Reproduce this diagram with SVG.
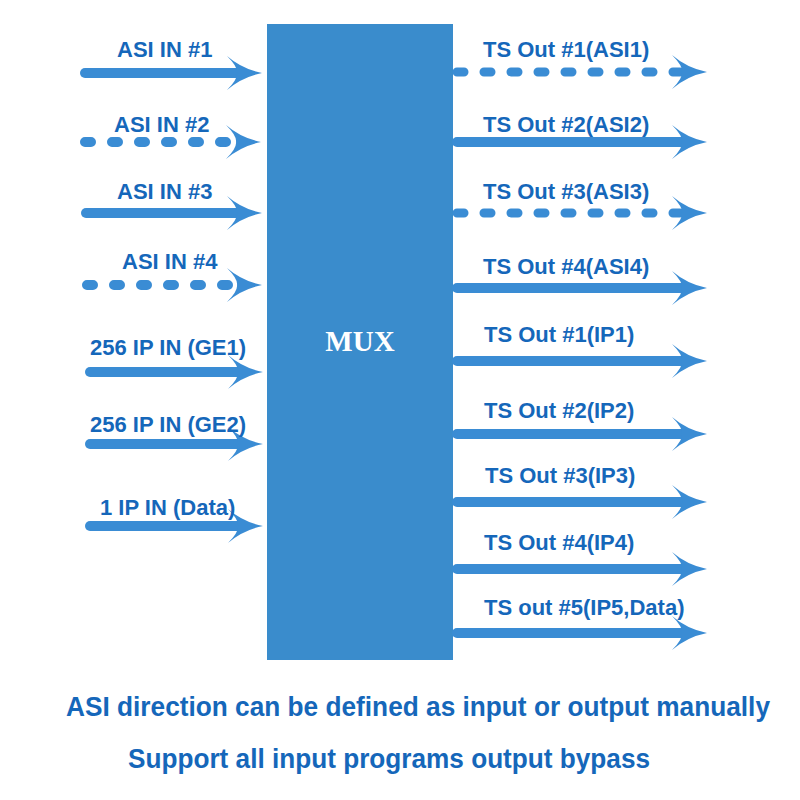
<svg xmlns="http://www.w3.org/2000/svg" width="800" height="800" viewBox="0 0 800 800">
<style>
.ln{fill:none;stroke:#3a8cd4;stroke-width:10;stroke-linecap:round;marker-end:url(#ah)}
.dl{stroke-dasharray:6 21}
.dr{stroke-dasharray:7 20;stroke-width:9}
.lb{font-family:"Liberation Sans",Arial,sans-serif;font-weight:bold;font-size:22px;fill:#1567ba}
.ft{font-family:"Liberation Sans",Arial,sans-serif;font-weight:bold;font-size:27px;fill:#1567ba;text-anchor:middle}
</style>
<defs>
<marker id="ah" markerUnits="userSpaceOnUse" viewBox="0 -18 37 36" markerWidth="37" markerHeight="36" refX="11" refY="0" orient="auto">
<path d="M36,0 Q16,-4 1,-17 Q12,-6 11,0 Q12,6 1,17 Q16,4 36,0 Z" fill="#3a8cd4"/>
</marker>
</defs>
<rect width="800" height="800" fill="#ffffff"/>
<g id="mux">
<rect x="267" y="24" width="186" height="636" fill="#3a8ccc"/>
<text x="360" y="351" text-anchor="middle" font-family="'Liberation Serif','Times New Roman',serif" font-weight="bold" font-size="29" fill="#ffffff">MUX</text>
</g>
<g id="connectors">
<path class="ln" d="M85,73 H237"/>
<path class="ln dl" d="M85,142 H236"/>
<path class="ln" d="M86,213 H237"/>
<path class="ln dl" d="M87,285 H237"/>
<path class="ln" d="M90,372 H238"/>
<path class="ln" d="M90,444 H238"/>
<path class="ln" d="M90,526 H238"/>
<path class="ln dr" d="M457,72 H682"/>
<path class="ln" d="M457,142 H682"/>
<path class="ln dr" d="M457,213 H682"/>
<path class="ln" d="M457,288 H682"/>
<path class="ln" d="M457,361 H682"/>
<path class="ln" d="M457,434 H682"/>
<path class="ln" d="M457,502 H682"/>
<path class="ln" d="M457,569 H682"/>
<path class="ln" d="M457,633 H682"/>
</g>
<g id="labels">
<text class="lb" x="117" y="57">ASI IN #1</text>
<text class="lb" x="114" y="132">ASI IN #2</text>
<text class="lb" x="117" y="199">ASI IN #3</text>
<text class="lb" x="122" y="269">ASI IN #4</text>
<text class="lb" x="90" y="355">256 IP IN (GE1)</text>
<text class="lb" x="90" y="432">256 IP IN (GE2)</text>
<text class="lb" x="100" y="515">1 IP IN (Data)</text>
<text class="lb" x="483" y="57">TS Out #1(ASI1)</text>
<text class="lb" x="483" y="132">TS Out #2(ASI2)</text>
<text class="lb" x="483" y="199">TS Out #3(ASI3)</text>
<text class="lb" x="483" y="274">TS Out #4(ASI4)</text>
<text class="lb" x="484" y="342">TS Out #1(IP1)</text>
<text class="lb" x="484" y="418">TS Out #2(IP2)</text>
<text class="lb" x="485" y="483">TS Out #3(IP3)</text>
<text class="lb" x="484" y="550">TS Out #4(IP4)</text>
<text class="lb" x="484" y="615">TS out #5(IP5,Data)</text>
</g>
<g id="notes">
<text class="ft" x="418" y="716" textLength="704" lengthAdjust="spacingAndGlyphs">ASI direction can be defined as input or output manually</text>
<text class="ft" x="389" y="768" textLength="522" lengthAdjust="spacingAndGlyphs">Support all input programs output bypass</text>
</g>
</svg>
